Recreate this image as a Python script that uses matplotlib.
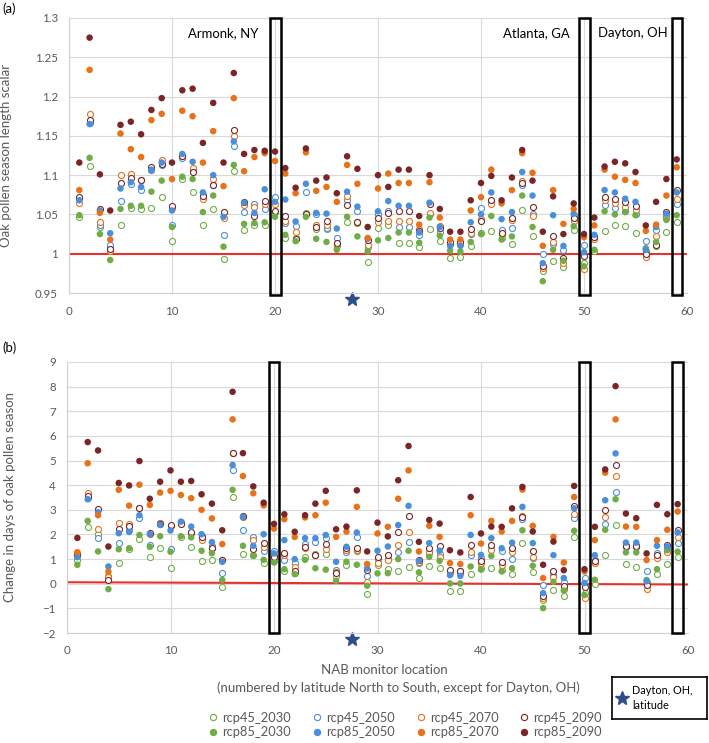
import numpy as np
import matplotlib
matplotlib.use('Agg')
import matplotlib.pyplot as plt
from matplotlib.ticker import FuncFormatter
from matplotlib.patches import Rectangle
from matplotlib.lines import Line2D

plt.rcParams['font.family'] = 'Lato'

locs = np.arange(1, 60)

# panel (a): season length scalar
a_rcp45_2030 = [1.047, 1.112, 1.034, 1.009, 1.036, 1.058, 1.057, 1.058, 1.072, 1.016,
                1.095, 1.078, 1.037, 1.057, 0.993, 1.105, 1.030, 1.036, 1.037, 1.053,
                1.020, 1.020, 1.052, 1.032, 1.031, 1.010, 1.041, 1.039, 0.990, 1.033,
                1.036, 1.014, 1.014, 1.008, 1.031, 1.016, 0.995, 0.996, 1.010, 1.027,
                1.029, 1.020, 1.013, 1.056, 1.022, 0.978, 0.991, 0.983, 1.030, 0.988,
                1.003, 1.029, 1.036, 1.035, 1.027, 1.003, 1.010, 1.028, 1.041]
a_rcp45_2050 = [1.071, 1.167, 1.036, 1.011, 1.067, 1.089, 1.081, 1.106, 1.113, 1.036,
                1.122, 1.106, 1.075, 1.088, 1.024, 1.137, 1.053, 1.063, 1.057, 1.072,
                1.039, 1.035, 1.078, 1.050, 1.033, 1.020, 1.068, 1.054, 1.009, 1.050,
                1.055, 1.034, 1.034, 1.024, 1.050, 1.028, 1.013, 1.013, 1.025, 1.058,
                1.066, 1.030, 1.033, 1.088, 1.050, 1.000, 1.013, 1.005, 1.049, 1.011,
                1.022, 1.062, 1.058, 1.055, 1.050, 1.016, 1.030, 1.048, 1.063]
a_rcp45_2070 = [1.065, 1.178, 1.041, 1.003, 1.100, 1.101, 1.094, 1.108, 1.119, 1.058,
                1.125, 1.109, 1.070, 1.095, 1.045, 1.150, 1.062, 1.060, 1.063, 1.063,
                1.042, 1.028, 1.050, 1.036, 1.037, 1.013, 1.074, 1.040, 1.011, 1.041,
                1.042, 1.042, 1.042, 1.031, 1.052, 1.035, 1.012, 1.012, 1.027, 1.044,
                1.063, 1.025, 1.043, 1.092, 1.048, 0.982, 1.015, 0.988, 1.042, 0.980,
                1.019, 1.068, 1.064, 1.059, 1.056, 0.996, 1.022, 1.045, 1.070]
a_rcp45_2090 = [1.072, 1.170, 1.057, 1.006, 1.090, 1.097, 1.094, 1.110, 1.114, 1.061,
                1.124, 1.104, 1.073, 1.087, 1.053, 1.157, 1.066, 1.048, 1.067, 1.055,
                1.048, 1.019, 1.050, 1.034, 1.042, 1.014, 1.062, 1.041, 1.017, 1.045,
                1.052, 1.055, 1.055, 1.029, 1.063, 1.033, 1.015, 1.015, 1.032, 1.042,
                1.068, 1.027, 1.045, 1.090, 1.060, 0.984, 1.023, 0.994, 1.045, 0.997,
                1.021, 1.072, 1.070, 1.066, 1.061, 1.000, 1.011, 1.053, 1.081]
a_rcp85_2030 = [1.049, 1.122, 1.025, 0.992, 1.057, 1.061, 1.061, 1.079, 1.093, 1.034,
                1.098, 1.095, 1.053, 1.074, 1.009, 1.113, 1.038, 1.039, 1.040, 1.047,
                1.024, 1.016, 1.047, 1.019, 1.015, 1.005, 1.047, 1.022, 1.003, 1.017,
                1.020, 1.027, 1.027, 1.014, 1.046, 1.023, 1.004, 1.003, 1.015, 1.025,
                1.048, 1.018, 1.022, 1.074, 1.034, 0.965, 1.005, 0.991, 1.035, 0.984,
                1.005, 1.054, 1.050, 1.053, 1.049, 1.007, 1.015, 1.043, 1.049]
a_rcp85_2050 = [1.068, 1.165, 1.055, 1.026, 1.083, 1.091, 1.085, 1.107, 1.116, 1.055,
                1.127, 1.117, 1.078, 1.100, 1.047, 1.143, 1.065, 1.052, 1.082, 1.066,
                1.069, 1.041, 1.089, 1.052, 1.051, 1.032, 1.079, 1.060, 1.019, 1.054,
                1.067, 1.061, 1.061, 1.027, 1.065, 1.034, 1.010, 1.010, 1.040, 1.050,
                1.078, 1.044, 1.053, 1.104, 1.074, 0.988, 1.049, 1.010, 1.051, 1.002,
                1.024, 1.081, 1.078, 1.070, 1.066, 1.005, 1.034, 1.051, 1.078]
a_rcp85_2070 = [1.081, 1.234, 1.052, 1.018, 1.153, 1.133, 1.123, 1.170, 1.178, 1.095,
                1.182, 1.175, 1.116, 1.156, 1.086, 1.198, 1.105, 1.123, 1.128, 1.118,
                1.102, 1.077, 1.129, 1.080, 1.085, 1.066, 1.113, 1.089, 1.020, 1.083,
                1.102, 1.090, 1.090, 1.037, 1.091, 1.046, 1.018, 1.018, 1.055, 1.072,
                1.107, 1.064, 1.081, 1.128, 1.103, 1.010, 1.081, 1.038, 1.057, 1.021,
                1.036, 1.107, 1.098, 1.094, 1.090, 1.029, 1.037, 1.074, 1.110]
a_rcp85_2090 = [1.116, 1.275, 1.101, 1.055, 1.164, 1.168, 1.152, 1.183, 1.198, 1.116,
                1.208, 1.210, 1.141, 1.192, 1.116, 1.230, 1.127, 1.132, 1.131, 1.130,
                1.109, 1.084, 1.134, 1.093, 1.097, 1.077, 1.124, 1.108, 1.034, 1.100,
                1.085, 1.107, 1.107, 1.048, 1.100, 1.057, 1.028, 1.028, 1.068, 1.090,
                1.099, 1.068, 1.097, 1.132, 1.093, 1.028, 1.073, 1.025, 1.064, 1.025,
                1.046, 1.111, 1.117, 1.115, 1.104, 1.036, 1.066, 1.095, 1.120]

# panel (b): change in days
b_rcp45_2030 = [0.95, 2.32, 2.01, 0.30, 0.86, 1.42, 1.81, 1.09, 1.47, 0.63,
                1.88, 1.51, 0.93, 0.96, -0.15, 3.54, 1.20, 1.18, 0.86, 0.93,
                0.50, 0.45, 1.07, 1.22, 1.20, 0.30, 0.76, 1.31, -0.42, 0.77,
                0.60, 0.50, 0.66, 0.23, 0.73, 0.62, -0.31, -0.31, 0.39, 0.63,
                0.63, 0.55, 0.39, 1.65, 0.46, -0.65, -0.26, -0.51, 1.88, -0.38,
                -0.01, 1.17, 2.39, 0.82, 0.66, 0.05, 0.39, 0.80, 1.07]
b_rcp45_2050 = [1.12, 3.50, 1.85, 0.19, 1.65, 2.20, 2.65, 1.57, 2.45, 1.40,
                2.50, 2.05, 1.95, 1.55, 0.42, 4.62, 2.17, 1.88, 1.34, 1.34,
                0.95, 0.85, 1.63, 1.68, 1.85, 0.55, 1.27, 1.88, 0.30, 1.00,
                1.00, 1.27, 1.70, 0.86, 1.25, 1.20, 0.50, 0.50, 1.15, 1.05,
                1.40, 1.34, 1.00, 2.62, 1.05, -0.04, 0.35, 0.05, 2.65, 0.23,
                0.95, 2.42, 3.72, 1.50, 1.50, 0.50, 1.25, 1.40, 1.66]
b_rcp45_2070 = [1.25, 3.70, 2.21, 0.26, 2.47, 2.42, 3.08, 2.00, 2.48, 2.35,
                2.45, 2.06, 1.77, 1.47, 0.95, 5.29, 2.72, 1.77, 1.51, 1.15,
                1.15, 0.66, 1.45, 1.16, 1.40, 0.46, 1.38, 1.36, 0.05, 0.86,
                0.95, 1.58, 2.11, 0.90, 1.27, 1.07, 0.45, 0.45, 1.27, 0.85,
                1.36, 0.77, 1.27, 2.75, 1.09, -0.58, 0.26, -0.22, 2.82, -0.58,
                0.86, 2.69, 4.37, 1.58, 1.58, -0.22, 1.04, 1.27, 1.90]
b_rcp45_2090 = [1.15, 3.56, 3.05, 0.15, 2.21, 2.33, 3.06, 2.05, 2.42, 2.38,
                2.42, 2.11, 1.88, 1.47, 0.97, 5.29, 2.75, 1.40, 1.65, 1.10,
                1.23, 0.53, 1.50, 1.17, 1.61, 0.42, 1.45, 1.43, 0.55, 1.07,
                1.17, 2.08, 2.75, 0.97, 1.45, 1.54, 0.57, 0.53, 1.57, 0.93,
                1.57, 0.89, 1.43, 2.70, 1.34, -0.49, 0.53, -0.08, 3.16, -0.15,
                0.93, 3.00, 4.82, 1.54, 1.54, -0.04, 1.15, 1.58, 2.17]
b_rcp85_2030 = [0.77, 2.55, 1.31, -0.22, 1.40, 1.44, 1.98, 1.50, 1.93, 1.30,
                1.93, 1.88, 1.34, 1.24, 0.15, 3.81, 1.54, 1.13, 0.97, 0.86,
                0.59, 0.39, 0.97, 0.63, 0.57, 0.12, 0.89, 0.77, -0.08, 0.42,
                0.43, 1.00, 1.34, 0.46, 1.09, 0.93, 0.01, 0.01, 0.70, 0.57,
                1.13, 0.50, 0.63, 2.17, 0.73, -0.99, 0.08, -0.28, 2.15, -0.46,
                0.16, 2.19, 3.43, 1.27, 1.27, 0.15, 0.59, 1.36, 1.30]
b_rcp85_2050 = [1.08, 3.43, 2.90, 0.70, 2.05, 2.10, 2.78, 2.01, 2.39, 2.16,
                2.52, 2.32, 2.01, 1.69, 0.89, 4.82, 2.71, 1.54, 2.01, 1.23,
                1.77, 1.00, 1.85, 1.85, 1.98, 0.89, 1.50, 2.08, 0.62, 1.34,
                1.51, 2.38, 3.16, 0.93, 1.65, 1.34, 0.35, 0.32, 1.98, 1.17,
                1.85, 1.44, 1.67, 3.12, 1.65, -0.38, 1.16, 0.23, 3.06, 0.03,
                1.16, 3.39, 5.29, 1.67, 1.67, 0.10, 1.54, 1.51, 2.08]
b_rcp85_2070 = [1.28, 4.89, 2.78, 0.49, 3.81, 3.17, 4.02, 3.20, 3.70, 3.77,
                3.60, 3.47, 3.00, 2.65, 1.61, 6.67, 4.37, 3.67, 3.18, 2.24,
                2.62, 1.90, 2.69, 2.78, 3.29, 1.90, 2.12, 3.12, 0.80, 2.04,
                2.31, 3.45, 4.60, 1.31, 2.35, 1.90, 0.84, 0.80, 2.78, 1.63,
                2.55, 2.12, 2.55, 3.82, 2.35, 0.23, 1.90, 0.86, 3.52, 0.50,
                1.77, 4.51, 6.67, 2.32, 2.31, 0.96, 1.77, 2.19, 2.93]
b_rcp85_2090 = [1.86, 5.75, 5.41, 1.51, 4.09, 3.99, 4.98, 3.45, 4.14, 4.60,
                4.14, 4.17, 3.63, 3.25, 2.17, 7.79, 5.30, 3.95, 3.29, 2.43,
                2.82, 2.11, 2.78, 3.25, 3.77, 2.21, 2.32, 3.79, 1.31, 2.48,
                1.92, 4.20, 5.59, 1.70, 2.59, 2.44, 1.36, 1.27, 3.52, 2.04,
                2.32, 2.31, 3.06, 3.93, 2.12, 0.77, 1.71, 0.55, 3.97, 0.59,
                2.31, 4.64, 8.02, 2.85, 2.66, 1.23, 3.20, 2.82, 3.23]

labels = ['rcp45_2030', 'rcp45_2050', 'rcp45_2070', 'rcp45_2090',
          'rcp85_2030', 'rcp85_2050', 'rcp85_2070', 'rcp85_2090']
colors = ['#70ad47', '#4a8fdc', '#e8711a', '#7a2626'] * 2
filled = [False] * 4 + [True] * 4
a_series = [a_rcp45_2030, a_rcp45_2050, a_rcp45_2070, a_rcp45_2090,
            a_rcp85_2030, a_rcp85_2050, a_rcp85_2070, a_rcp85_2090]
b_series = [b_rcp45_2030, b_rcp45_2050, b_rcp45_2070, b_rcp45_2090,
            b_rcp85_2030, b_rcp85_2050, b_rcp85_2070, b_rcp85_2090]

boxed = [20, 50, 59]
dayton_lat = 27.5
b_ref_x = [0, 60]
b_ref_y = [0.06, -0.03]

W, H = 709, 743
grey = '#595959'
star_c = '#2f4f8a'
fig = plt.figure(figsize=(W/100, H/100), dpi=100)
renderer = fig.canvas.get_renderer()


def fit(s, px):
    # font size (pt) that makes string s about px pixels wide
    t = fig.text(0, 0, s, fontsize=10)
    w = t.get_window_extent(renderer).width
    t.remove()
    return 10 * px / w


fs_tick = fit('1.25', 23)
fs_title = fit('(numbered by latitude North to South, except for Dayton, OH)', 364)
fs_note = fit('Armonk, NY', 70)
fs_leg = fit('rcp45_2030', 69)
fs_key = fit('Dayton, OH,', 60)


def fx(px):
    return px / W


def fy(py):
    return 1 - py / H


ax1 = fig.add_axes([fx(69), fy(293), 618/W, 275/H])
ax2 = fig.add_axes([fx(67), fy(633), 621/W, 271/H])


def style(ax):
    ax.set_xlim(0, 60)
    ax.set_xticks(range(0, 61, 10))
    ax.grid(True, color='#d9d9d9', linewidth=0.8)
    ax.set_axisbelow(True)
    for s in ['top', 'right']:
        ax.spines[s].set_visible(False)
    for s in ['left', 'bottom']:
        ax.spines[s].set_color('#d0d0d0')
    ax.tick_params(length=0, colors=grey, labelsize=fs_tick)
    ax.tick_params(axis='x', pad=9)
    ax.tick_params(axis='y', pad=8)


def scatter(ax, series):
    for vals, c, f, lab in zip(series, colors, filled, labels):
        if f:
            ax.scatter(locs, vals, s=22, color=c, edgecolors='none', label=lab, zorder=3)
        else:
            ax.scatter(locs, vals, s=19, facecolors='white', edgecolors=c,
                       linewidths=0.8, label=lab, zorder=3)


# (a)
style(ax1)
ax1.set_ylim(0.95, 1.3)
ax1.set_yticks(np.arange(0.95, 1.301, 0.05))
ax1.yaxis.set_major_formatter(FuncFormatter(lambda v, p: '%g' % round(v, 2)))
ax1.axhline(1.0, color='#e8302c', linewidth=1.5, zorder=2)
scatter(ax1, a_series)
for x in boxed:
    ax1.add_patch(Rectangle((x - 0.5, 0.947), 1.05, 0.353, fill=False, edgecolor='black',
                            linewidth=1.8, clip_on=False, zorder=4))
ax1.plot(dayton_lat, 0.943, marker='*', color=star_c, markersize=10, clip_on=False)
ax1.set_ylabel('Oak pollen season length scalar', color=grey, fontsize=fs_title)
ax1.yaxis.set_label_coords((12 - 69) / 618, 0.5)
ax1.text(11.55, 1.281, 'Armonk, NY', fontsize=fs_note, va='center')
ax1.text(48.6, 1.281, 'Atlanta, GA', fontsize=fs_note, va='center', ha='right')
ax1.text(51.4, 1.281, 'Dayton, OH', fontsize=fs_note, va='center')
fig.text(fx(2), fy(9), '(a)', fontsize=fs_note, va='center')

# (b)
style(ax2)
ax2.set_ylim(-2, 9)
ax2.set_yticks(range(-2, 10))
ax2.plot(b_ref_x, b_ref_y, color='#e8302c', linewidth=1.5, zorder=2)
scatter(ax2, b_series)
for x in boxed:
    ax2.add_patch(Rectangle((x - 0.5, -2), 1.0, 11, fill=False, edgecolor='black',
                            linewidth=1.8, clip_on=False, zorder=4))
ax2.plot(dayton_lat, -2.25, marker='*', color=star_c, markersize=10, clip_on=False)
ax2.set_ylabel('Change in days of oak pollen season', color=grey, fontsize=fs_title)
ax2.yaxis.set_label_coords((16 - 67) / 621, 0.5)
fig.text(fx(384), fy(670), 'NAB monitor location', fontsize=fs_title, color=grey,
         ha='center', va='center')
fig.text(fx(398), fy(688), '(numbered by latitude North to South, except for Dayton, OH)',
         fontsize=fs_title, color=grey, ha='center', va='center')
fig.text(fx(2), fy(348), '(b)', fontsize=fs_note, va='center')

# legend
handles = []
for c, f, lab in zip(colors, filled, labels):
    handles.append(Line2D([], [], linestyle='none', marker='o', markersize=4.5,
                          markerfacecolor=c if f else 'white', markeredgecolor=c,
                          markeredgewidth=0.8, label=lab))
em = fs_leg * 100 / 72
hl, htp = 0.8, 0.3
cs = (104 - 69 - (hl + htp) * em) / em
order = [0, 4, 1, 5, 2, 6, 3, 7]
leg = fig.legend([handles[i] for i in order], [labels[i] for i in order],
                 loc='center', bbox_to_anchor=(fx(405), fy(725)), ncol=4,
                 frameon=False, fontsize=fs_leg, handletextpad=htp, columnspacing=cs,
                 labelspacing=0.2, handlelength=hl, borderpad=0)
for t in leg.get_texts():
    t.set_color(grey)

# Dayton latitude key
kax = fig.add_axes([fx(612), fy(719), 95/W, 42/H])
kax.set_xticks([])
kax.set_yticks([])
for s in kax.spines.values():
    s.set_linewidth(1.2)
kax.set_xlim(0, 95)
kax.set_ylim(0, 42)
kax.plot(10, 21, marker='*', color=star_c, markersize=10)
kax.text(20, 21, 'Dayton, OH,\nlatitude', fontsize=fs_key, va='center', linespacing=1.4)

fig.savefig('out.png', dpi=100)
